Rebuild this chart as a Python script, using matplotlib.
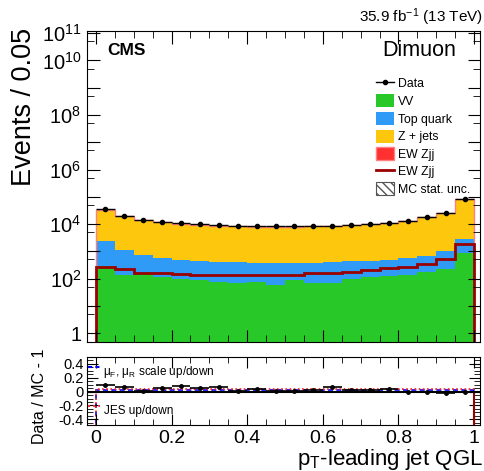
import numpy as np
import matplotlib
matplotlib.use("Agg")
import matplotlib.pyplot as plt
from matplotlib.patches import Patch
from matplotlib.lines import Line2D
from matplotlib.ticker import FixedLocator, FuncFormatter, MultipleLocator

plt.rcParams['font.family'] = ['Liberation Sans', 'DejaVu Sans']
plt.rcParams['mathtext.fontset'] = 'custom'
plt.rcParams['mathtext.rm'] = 'Liberation Sans'
plt.rcParams['mathtext.it'] = 'Liberation Sans:italic'
plt.rcParams['mathtext.bf'] = 'Liberation Sans:bold'

# binning: 20 bins of 0.05 in QGL
edges = np.linspace(0, 1, 21)
centers = 0.5 * (edges[1:] + edges[:-1])

data = [35000, 20500, 14500, 12000, 11000, 9900, 9300, 8600, 8300, 8200,
        8200, 8400, 8600, 9300, 10200, 11200, 13000, 17500, 25000, 80000]
vv = [295, 138, 145, 110, 98, 85, 76, 68, 72, 59,
      85, 66, 68, 98, 110, 119, 129, 173, 229, 855]
top_quark = [1995, 932, 600, 455, 392, 350, 334, 322, 298, 311,
             295, 304, 332, 327, 325, 371, 446, 507, 751, 1945]
zjets = [29200, 18050, 13450, 10710, 9500, 8770, 8180, 7950, 7480, 7580,
         7570, 7670, 7560, 8470, 9310, 10050, 12160, 16660, 24150, 75400]
ew_zjj = [275, 220, 166, 158, 148, 140, 136, 133, 133, 133,
          133, 158, 153, 176, 204, 233, 268, 336, 515, 1800]

# systematic variations in the ratio panel
scale_up = [0.030, 0.028, 0.026, 0.026, 0.025, 0.025, 0.025, 0.024, 0.024, 0.024,
            0.024, 0.024, 0.024, 0.025, 0.025, 0.025, 0.026, 0.026, 0.027, 0.028]
jes_up = [0.040, 0.038, 0.036, 0.035, 0.035, 0.034, 0.034, 0.034, 0.034, 0.034,
          0.034, 0.034, 0.034, 0.034, 0.035, 0.035, 0.035, 0.036, 0.037, 0.038]

col_vv = '#29c829'
col_top = '#2f9bf7'
col_zj = '#fdc70d'
col_ew = '#ff3030'
col_ewline = '#990000'

fig = plt.figure(figsize=(4.85, 4.71), dpi=100)
ax = fig.add_axes([0.179, 0.274, 0.811, 0.660])
ax2 = fig.add_axes([0.179, 0.098, 0.811, 0.144])

# stacked backgrounds
comps = [(vv, col_vv), (top_quark, col_top), (zjets, col_zj), (ew_zjj, col_ew)]
low = np.full(20, 1e-3)
for vals, c in comps:
    high = low + np.array(vals)
    ax.stairs(high, edges, baseline=low, fill=True, color=c, lw=0)
    low = high
mc_total = low
ax.stairs(mc_total, edges, color='#ff8080', lw=1.0)

# EW Zjj alone
ax.stairs(ew_zjj, edges, baseline=1e-3, color=col_ewline, lw=2)

data = np.array(data)
ax.errorbar(centers, data, xerr=0.025, yerr=np.sqrt(data), fmt='o', ms=3,
            color='k', lw=1, capsize=0, zorder=5)

ax.set_yscale('log')
ax.set_ylim(0.47, 1.2e11)
ax.set_xlim(-0.024, 1.016)

ax.yaxis.set_major_locator(FixedLocator([10.0 ** k for k in range(0, 12)]))
ax.yaxis.set_minor_locator(FixedLocator([5 * 10.0 ** k for k in range(0, 11)]))


def logfmt(v, pos):
    n = int(round(np.log10(v)))
    if n == 0:
        return '1'
    if n % 2 == 0 or n == 11:
        return '$10^{%d}$' % n
    return ''


ax.yaxis.set_major_formatter(FuncFormatter(logfmt))
ax.xaxis.set_major_locator(MultipleLocator(0.2))
ax.xaxis.set_minor_locator(MultipleLocator(0.05))
ax.tick_params(axis='both', which='both', direction='in', top=True, right=True)
ax.tick_params(which='major', length=9, labelsize=14.5, pad=4)
ax.tick_params(which='minor', length=5)
ax.tick_params(axis='x', labelbottom=False)

ax.text(0.051, 0.939, 'CMS', transform=ax.transAxes, fontsize=12.5,
        fontweight='bold', va='center', ha='left')
ax.text(0.94, 0.939, 'Dimuon', transform=ax.transAxes, fontsize=15.5,
        va='center', ha='right')
fig.text(0.996, 1 - 28 / 471, r'35.9 fb$^{-1}$ (13 TeV)', fontsize=11,
         ha='right', va='bottom')

handles = [
    Line2D([], [], color='k', marker='o', ms=3, lw=1),
    Patch(facecolor=col_vv, edgecolor='none'),
    Patch(facecolor=col_top, edgecolor='none'),
    Patch(facecolor=col_zj, edgecolor='none'),
    Patch(facecolor=col_ew, edgecolor='#ff8080', lw=1),
    Line2D([], [], color=col_ewline, lw=2),
    Patch(facecolor='white', edgecolor='#555555', hatch='\\\\\\\\', lw=0.8),
]
labels = ['Data', 'VV', 'Top quark', 'Z + jets', 'EW Zjj', 'EW Zjj', 'MC stat. unc.']
ax.legend(handles, labels, loc='upper left', bbox_to_anchor=(0.735, 0.853),
          frameon=False, fontsize=8.8, handlelength=1.5, handleheight=1.25,
          handletextpad=0.3, labelspacing=0.33, borderpad=0, borderaxespad=0)

fig.text(24 / 485, 1 - 28 / 471, 'Events / 0.05', rotation=90, fontsize=19.5,
         ha='center', va='top')

# ratio panel
ratio = data / mc_total - 1
rerr = np.sqrt(data) / mc_total
ax2.axhline(0, color='k', lw=1.5, zorder=3)
ax2.stairs(scale_up, edges, baseline=-0.6, color='#0000ff', ls=(0, (3, 2)), lw=1.2)
ax2.stairs(jes_up, edges, baseline=-0.6, color='#ff2020', ls=(0, (1, 1.5)), lw=1.2)
ax2.vlines(edges[-1], -0.6, 0, color=col_ewline, lw=1.5)
ax2.errorbar(centers, ratio, xerr=0.025, yerr=rerr, fmt='o', ms=2.5,
             color='k', lw=1.2, capsize=0, zorder=5)

ax2.plot([0.003, 0.033], [0.86, 0.86], transform=ax2.transAxes, color='#0000ff',
         ls=(0, (2, 1.5)), lw=1.5)
ax2.plot([0.003, 0.033], [0.28, 0.28], transform=ax2.transAxes, color='#ff3030',
         ls=(0, (1, 1.5)), lw=1.5)
ax2.text(0.042, 0.78, r'$\mathrm{\mu_{F}}$, $\mathrm{\mu_{R}}$ scale up/down',
         transform=ax2.transAxes, fontsize=8.5, va='center', ha='left')
ax2.text(0.044, 0.21, 'JES up/down', transform=ax2.transAxes, fontsize=8.5,
         va='center', ha='left')

ax2.set_xlim(-0.024, 1.016)
ax2.set_ylim(-0.48, 0.5)
ax2.xaxis.set_major_locator(MultipleLocator(0.2))
ax2.xaxis.set_minor_locator(MultipleLocator(0.05))
ax2.yaxis.set_major_locator(MultipleLocator(0.2))
ax2.yaxis.set_minor_locator(MultipleLocator(0.05))
ax2.xaxis.set_major_formatter(FuncFormatter(lambda v, p: '%g' % round(v, 1)))
ax2.yaxis.set_major_formatter(FuncFormatter(lambda v, p: '%g' % round(v, 1)))
ax2.tick_params(axis='both', which='both', direction='in', top=True, right=True)
ax2.tick_params(which='major', length=8)
ax2.tick_params(which='minor', length=4)
ax2.tick_params(axis='x', labelsize=14, pad=4)
ax2.tick_params(axis='y', labelsize=10.5, pad=2)

fig.text(40 / 485, 1 - 396 / 471, 'Data / MC - 1', rotation=90, fontsize=11.5,
         ha='center', va='center')
fig.text(0.996, 1 - 460 / 471, r'p$_\mathrm{T}$-leading jet QGL', fontsize=16,
         ha='right', va='center')

fig.savefig('out.png', dpi=100)
